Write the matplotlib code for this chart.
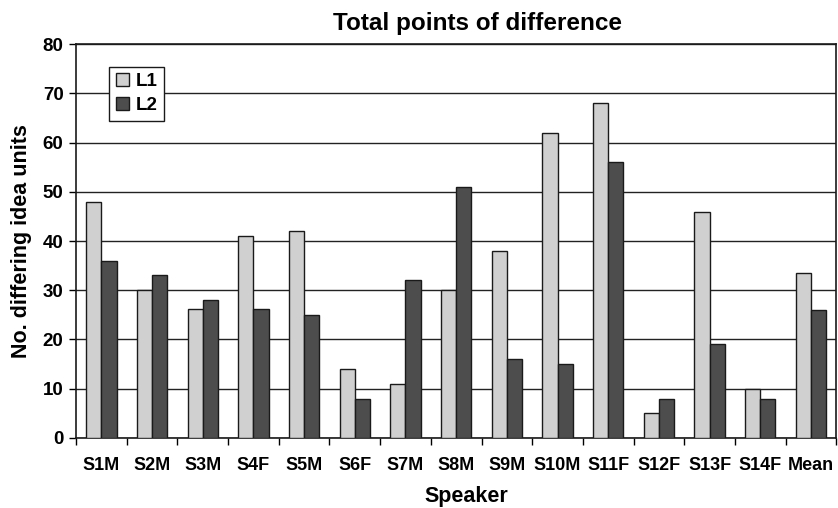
import numpy as np
import matplotlib.pyplot as plt

plt.rcParams['font.family'] = ['Liberation Sans', 'DejaVu Sans']
plt.rcParams['font.weight'] = 'bold'

speakers = ['S1M', 'S2M', 'S3M', 'S4F', 'S5M', 'S6F', 'S7M', 'S8M', 'S9M',
            'S10M', 'S11F', 'S12F', 'S13F', 'S14F', 'Mean']
l1 = [48, 30, 26.2, 41, 42, 14, 11, 30, 38, 62, 68, 5, 46, 10, 33.6]
l2 = [36, 33, 28, 26.2, 25, 8, 32, 51, 16, 15, 56, 8, 19, 8, 26]

fig = plt.figure(figsize=(8.38, 5.08), dpi=100)
ax = fig.add_axes([0.0907, 0.138, 0.9073, 0.775])

x = np.arange(len(speakers))
w = 0.3
ax.bar(x - w / 2, l1, w, color='#d0d0d0', edgecolor='#1a1a1a', linewidth=1, label='L1', zorder=3)
ax.bar(x + w / 2, l2, w, color='#4d4d4d', edgecolor='#1a1a1a', linewidth=1, label='L2', zorder=3)

ax.set_xlim(-0.5, len(speakers) - 0.5)
ax.set_ylim(0, 80)
ax.set_yticks(range(0, 81, 10))
ax.yaxis.grid(True, color='#222222', linewidth=1, zorder=0)

ax.set_xticks(np.arange(len(speakers) + 1) - 0.5)
ax.set_xticklabels([])
ax.set_xticks(x, minor=True)
ax.set_xticklabels(speakers, minor=True, fontsize=13, fontweight='bold')
ax.tick_params(axis='x', which='minor', length=0, pad=14)
ax.tick_params(axis='x', which='major', length=5, direction='out', width=1)
ax.tick_params(axis='y', length=5, width=1, labelsize=13.5, pad=4)

for s in ax.spines.values():
    s.set_linewidth(1.2)
    s.set_color('#1a1a1a')

ax.set_title('Total points of difference', fontsize=17.5, fontweight='bold', pad=10, x=0.528)
ax.set_xlabel('Speaker', fontsize=15.5, fontweight='bold')
ax.xaxis.set_label_coords(0.514, -0.122)
ax.set_ylabel('No. differing idea units', fontsize=15.5, fontweight='bold', labelpad=8)

leg = ax.legend(loc='upper left', bbox_to_anchor=(0.044, 0.943), fancybox=False,
                edgecolor='#1a1a1a', framealpha=1, fontsize=13.5, handlelength=0.7,
                handleheight=0.7, handletextpad=0.35, borderpad=0.35, labelspacing=0.35,
                borderaxespad=0)
leg.get_frame().set_linewidth(1)

fig.savefig('out.png', dpi=100)
